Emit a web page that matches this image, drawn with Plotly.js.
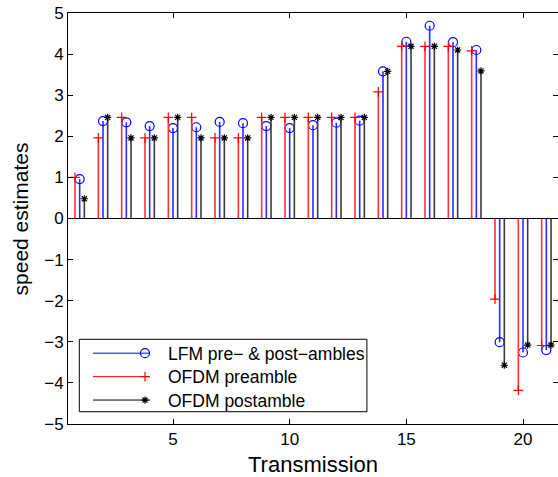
<!DOCTYPE html>
<html>
<head>
<meta charset="utf-8">
<script src="https://cdn.plot.ly/plotly-3.0.1.min.js"></script>
<style>
  html, body { margin: 0; padding: 0; background: #fff; }
  #chart { width: 558px; height: 477px; }
</style>
</head>
<body>
<div id="chart"></div>
<script>
// Speed estimates per transmission, from three different synchronisation signals
const transmissions = [1, 2, 3, 4, 5, 6, 7, 8, 9, 10, 11, 12, 13, 14, 15, 16, 17, 18, 19, 20, 21];
const lfmEstimates = [0.96, 2.37, 2.34, 2.25, 2.20, 2.22, 2.35, 2.32, 2.25, 2.20, 2.27, 2.33, 2.38, 3.58, 4.30, 4.69, 4.29, 4.10, -3.01, -3.26, -3.20];
const ofdmPreEstimates = [1.00, 1.96, 2.46, 1.96, 2.46, 2.46, 1.96, 1.96, 2.46, 2.46, 2.46, 2.46, 2.46, 3.08, 4.19, 4.19, 4.19, 4.08, -1.96, -4.18, -3.09];
const ofdmPostEstimates = [0.48, 2.46, 1.96, 1.96, 2.46, 1.96, 1.96, 1.96, 2.46, 2.46, 2.46, 2.46, 2.46, 3.58, 4.19, 4.19, 4.10, 3.59, -3.57, -3.08, -3.08];
const seriesNames = ['LFM pre\u2212 & post\u2212ambles', 'OFDM preamble', 'OFDM postamble'];
const xTicks = [5, 10, 15, 20];
const yTicks = [-5, -4, -3, -2, -1, 0, 1, 2, 3, 4, 5];

// side-by-side placement of the three stems within one transmission
const groupShift = { lfm: 0, pre: -0.2, post: 0.2 };

const FONT = 'Liberation Sans, Arial, Helvetica, sans-serif';

// legend rows: a line sample with the marker at its right end, then the label
const legendRowsY = [0.172, 0.115, 0.058];
const legendLineX = 0.0408;
const legendMarkX = 0.1102;

function stemTraces(k, xs, ys, shift, lineColor, markerColor, symbol, size) {
  const sx = [], sy = [];
  xs.forEach((x, i) => { sx.push(x + shift, x + shift, null); sy.push(0, ys[i], null); });
  const px = xs.map(x => x + shift);
  const marker = { symbol: symbol, size: size, color: markerColor, line: { color: markerColor, width: 1.2 } };
  const lineLegend = 'legend' + (2 * k + 1 === 1 ? '' : 2 * k + 1);
  const markLegend = 'legend' + (2 * k + 2);
  return [
    { type: 'scatter', mode: 'lines', x: sx, y: sy, hoverinfo: 'skip', showlegend: false,
      line: { color: lineColor, width: 1.6 } },
    { type: 'scatter', mode: 'markers', x: px, y: ys, name: seriesNames[k], showlegend: false, marker: marker },
    // legend samples
    { type: 'scatter', mode: 'lines', x: [null], y: [null], name: ' ', legend: lineLegend,
      line: { color: markerColor, width: 1 } },
    { type: 'scatter', mode: 'markers', x: [null], y: [null], name: seriesNames[k], legend: markLegend,
      marker: marker }
  ];
}

const data = [].concat(
  stemTraces(0, transmissions, lfmEstimates, groupShift.lfm, '#2b2bff', '#0000ff', 'circle-open', 9),
  stemTraces(1, transmissions, ofdmPreEstimates, groupShift.pre, '#ff3030', '#ff0000', 'cross-thin-open', 7),
  stemTraces(2, transmissions, ofdmPostEstimates, groupShift.post, '#3a3a3a', '#000000', 'asterisk-open', 6)
);

function legendBox(x, y, w) {
  return {
    x: x, y: y, xanchor: 'left', yanchor: 'middle',
    bgcolor: 'rgba(0,0,0,0)', borderwidth: 0,
    font: { family: FONT, size: 17.5, color: '#000' },
    itemwidth: w
  };
}

const layout = {
  width: 558, height: 477,
  margin: { l: 68, r: 0, t: 13, b: 53, pad: 0 },
  paper_bgcolor: '#fff', plot_bgcolor: '#fff',
  font: { family: FONT, color: '#000', size: 17 },
  showlegend: true,
  legend: legendBox(legendLineX, legendRowsY[0], 57),
  legend2: legendBox(legendMarkX, legendRowsY[0], 36),
  legend3: legendBox(legendLineX, legendRowsY[1], 57),
  legend4: legendBox(legendMarkX, legendRowsY[1], 36),
  legend5: legendBox(legendLineX, legendRowsY[2], 57),
  legend6: legendBox(legendMarkX, legendRowsY[2], 36),
  shapes: [{
    type: 'rect', xref: 'paper', yref: 'paper',
    x0: 0.0231, x1: 0.610, y0: 0.0299, y1: 0.2061,
    fillcolor: '#fff', line: { color: '#000', width: 1 }, layer: 'above'
  }],
  xaxis: {
    range: [0.5, 21.5], tickvals: xTicks, ticktext: xTicks.map(String),
    ticks: 'inside', ticklen: 5, tickcolor: '#000', tickwidth: 1,
    showline: true, linecolor: '#000', linewidth: 1, mirror: 'ticks',
    showgrid: false, zeroline: false,
    tickfont: { family: FONT, size: 17 },
    title: { text: 'Transmission', font: { family: FONT, size: 22 } }
  },
  yaxis: {
    range: [-5, 5], tickvals: yTicks, ticktext: yTicks.map(v => v < 0 ? '\u2212' + Math.abs(v) : String(v)),
    ticks: 'inside', ticklen: 5, tickcolor: '#000', tickwidth: 1,
    showline: true, linecolor: '#000', linewidth: 1, mirror: 'ticks',
    showgrid: false, zeroline: true, zerolinecolor: '#000', zerolinewidth: 1.2,
    tickfont: { family: FONT, size: 17 }
  },
  annotations: [{
    text: 'speed estimates', textangle: -90, showarrow: false,
    xref: 'paper', yref: 'paper', x: -0.096, y: 0.5, xanchor: 'center', yanchor: 'middle',
    font: { family: FONT, size: 21, color: '#000' }
  }]
};

Plotly.newPlot('chart', data, layout, { staticPlot: true, displayModeBar: false });
</script>
</body>
</html>
